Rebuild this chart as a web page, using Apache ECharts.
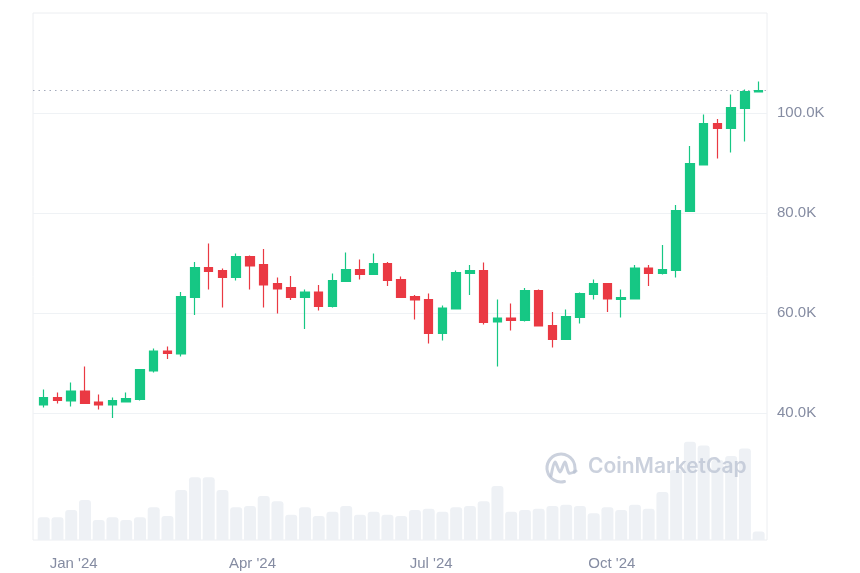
<!DOCTYPE html>
<html>
<head>
<meta charset="utf-8">
<script src="https://cdn.jsdelivr.net/npm/echarts@6/dist/echarts.min.js"></script>
<style>
  html, body { margin: 0; padding: 0; background: #fff; }
  #chart { width: 860px; height: 573px; }
</style>
</head>
<body>
<div id="chart"></div>
<script>
// weekly BTC candles, 2024 (USD)
const weeks = [
  '2023-12-18', '2023-12-25', '2024-01-01', '2024-01-08', '2024-01-15', '2024-01-22', '2024-01-29',
  '2024-02-05', '2024-02-12', '2024-02-19', '2024-02-26', '2024-03-04', '2024-03-11', '2024-03-18',
  '2024-03-25', '2024-04-01', '2024-04-08', '2024-04-15', '2024-04-22', '2024-04-29', '2024-05-06',
  '2024-05-13', '2024-05-20', '2024-05-27', '2024-06-03', '2024-06-10', '2024-06-17', '2024-06-24',
  '2024-07-01', '2024-07-08', '2024-07-15', '2024-07-22', '2024-07-29', '2024-08-05', '2024-08-12',
  '2024-08-19', '2024-08-26', '2024-09-02', '2024-09-09', '2024-09-16', '2024-09-23', '2024-09-30',
  '2024-10-07', '2024-10-14', '2024-10-21', '2024-10-28', '2024-11-04', '2024-11-11', '2024-11-18',
  '2024-11-25', '2024-12-02', '2024-12-09', '2024-12-16'
]
const opens = [
  41600, 43100, 42400, 44400, 42200, 41600, 42200, 42700, 48400, 52400, 51800, 63100, 69100, 68500,
  67100, 71300, 69700, 65900, 65100, 63100, 64200, 61300, 66300, 68700, 67700, 69900, 66700, 63300,
  62700, 55900, 60800, 67900, 68500, 58200, 59000, 58500, 64500, 57500, 54700, 59100, 63700, 65900,
  62700, 62800, 69000, 67900, 68500, 80300, 89600, 97900, 96900, 100900, 104200
]
const closes = [
  43100, 42500, 44400, 41900, 41600, 42500, 42900, 48700, 52400, 51900, 63300, 69100, 68300, 67100,
  71300, 69400, 65600, 64800, 63100, 64200, 61300, 66500, 68700, 67700, 69900, 66500, 63100, 62600,
  55900, 61000, 68100, 68500, 58100, 59000, 58500, 64500, 57400, 54700, 59300, 63900, 65900, 62800,
  63100, 69000, 67900, 68700, 80500, 89900, 97900, 96900, 101100, 104300, 104500
]
const lows = [
  41100, 41900, 41300, 41800, 40700, 39000, 42100, 42500, 48100, 50800, 51300, 59600, 64700, 61100,
  66500, 64700, 61100, 59900, 62600, 56800, 60500, 61100, 66200, 66700, 67600, 65400, 63000, 58700,
  53900, 54500, 60700, 63600, 57700, 49300, 56500, 58300, 57300, 53100, 54600, 57900, 62700, 60200,
  59100, 62700, 65400, 67700, 67100, 80200, 89500, 90900, 92100, 94300, 104100
]
const highs = [
  44700, 44100, 46100, 49300, 43700, 43100, 44100, 48800, 52900, 53300, 64200, 70200, 73900, 68900,
  71900, 71500, 72800, 67100, 67400, 64700, 65600, 67900, 72100, 70700, 71900, 70200, 67300, 63600,
  63900, 61500, 68500, 69600, 70100, 62700, 61900, 65000, 64700, 60200, 60700, 64100, 66700, 66000,
  64700, 69600, 69600, 73600, 81600, 93400, 99700, 98800, 103700, 104700, 106300
]
// weekly volume, USD billions
const volumes = [
  91, 91, 120, 160, 80, 91, 80, 91, 131, 96, 200, 251, 251, 200, 131, 136, 176, 155, 101, 131, 96,
  113, 136, 101, 113, 101, 96, 120, 125, 113, 131, 136, 155, 216, 113, 120, 125, 136, 141, 136, 107,
  131, 120, 141, 125, 192, 280, 393, 378, 320, 336, 366, 34
]
const tickDates = ['2024-01-01', '2024-04-01', '2024-07-01', '2024-10-01']
const tickLabels = ["Jan '24", "Apr '24", "Jul '24", "Oct '24"]

const UP = '#16c784'
const DOWN = '#ea3943'
const GRAY = '#858ca2'
const MARK = 'rgba(186, 194, 209, 0.75)'
const FONT = 'Liberation Sans, Arial, sans-serif'

const toTime = (d) => echarts.time.parse(d).getTime()
const weekTimes = weeks.map(toTime)
const candleData = weekTimes.map((t, i) => [t, opens[i], closes[i], lows[i], highs[i]])
const volumeData = weekTimes.map((t, i) => [t, volumes[i]])
const tickTimes = tickDates.map(toTime)
const lastClose = closes[closes.length - 1]

const xMin = toTime('2023-12-12T13:00:00')
const xMax = toTime('2024-12-20T06:00:00')

const chart = echarts.init(document.getElementById('chart'), null, { renderer: 'canvas' })

const option = {
  backgroundColor: '#fff',
  animation: false,
  grid: [
    // price
    { left: 33, right: 93, top: 13, bottom: 60 },
    // volume + frame
    { left: 33, right: 93, top: 13, bottom: 33, show: true, borderColor: '#eceef1', borderWidth: 1 }
  ],
  xAxis: [
    { type: 'value', gridIndex: 0, min: xMin, max: xMax, show: false },
    {
      type: 'value', gridIndex: 1, min: xMin, max: xMax,
      axisLine: { show: false }, axisTick: { show: false }, splitLine: { show: false },
      axisLabel: {
        customValues: tickTimes,
        margin: 16,
        color: GRAY, fontSize: 15, fontFamily: FONT,
        padding: [0, 0, 0, 5],
        formatter: (v) => {
          const k = tickTimes.indexOf(v)
          return k >= 0 ? tickLabels[k] : ''
        }
      }
    }
  ],
  yAxis: [
    {
      type: 'value', gridIndex: 0, position: 'right',
      min: 20000, max: 120000, interval: 20000,
      axisLine: { show: false }, axisTick: { show: false },
      axisLabel: {
        showMinLabel: false, showMaxLabel: false,
        margin: 10, color: GRAY, fontSize: 15, fontFamily: FONT,
        formatter: (v) => (v / 1000).toFixed(1) + 'K'
      },
      splitLine: { showMinLine: false, showMaxLine: false, lineStyle: { color: '#eff2f5', width: 1 } }
    },
    { type: 'value', gridIndex: 1, min: 0, max: 2108, show: false }
  ],
  // CoinMarketCap watermark
  graphic: [
    {
      type: 'arc', silent: true, z: 100,
      shape: { cx: 561, cy: 468, r: 14, startAngle: Math.PI * 0.42, endAngle: Math.PI * 2.1 },
      style: { stroke: MARK, lineWidth: 3, fill: null, lineCap: 'round' }
    },
    {
      type: 'polyline', silent: true, z: 100,
      shape: { points: [[551, 476], [555, 462], [560, 472], [565, 462], [569, 473], [576, 471]], smooth: 0.3 },
      style: { stroke: MARK, lineWidth: 3, fill: null, lineCap: 'round', lineJoin: 'round' }
    },
    {
      type: 'text', silent: true, z: 100, left: 588, top: 456,
      style: { text: 'CoinMarketCap', fill: MARK, fontSize: 21, fontWeight: 600, fontFamily: 'Inter, sans-serif' }
    }
  ],
  series: [
    {
      name: 'Volume', type: 'bar',
      xAxisIndex: 1, yAxisIndex: 1,
      data: volumeData,
      barWidth: 12,
      itemStyle: { color: '#eef1f5', borderRadius: [3, 3, 0, 0] },
      silent: true, z: 0
    },
    {
      name: 'BTC', type: 'candlestick',
      xAxisIndex: 0, yAxisIndex: 0,
      data: candleData,
      encode: { x: 0, y: [1, 2, 3, 4] },
      barWidth: 9,
      itemStyle: { color: UP, color0: DOWN, borderColor: UP, borderColor0: DOWN, borderWidth: 1.2 },
      markLine: {
        silent: true, symbol: 'none',
        label: { show: false },
        lineStyle: { color: '#a3aabb', type: [1.5, 4], width: 1.2 },
        data: [{ yAxis: lastClose }]
      },
      z: 5
    }
  ]
}
chart.setOption(option)
</script>
</body>
</html>
